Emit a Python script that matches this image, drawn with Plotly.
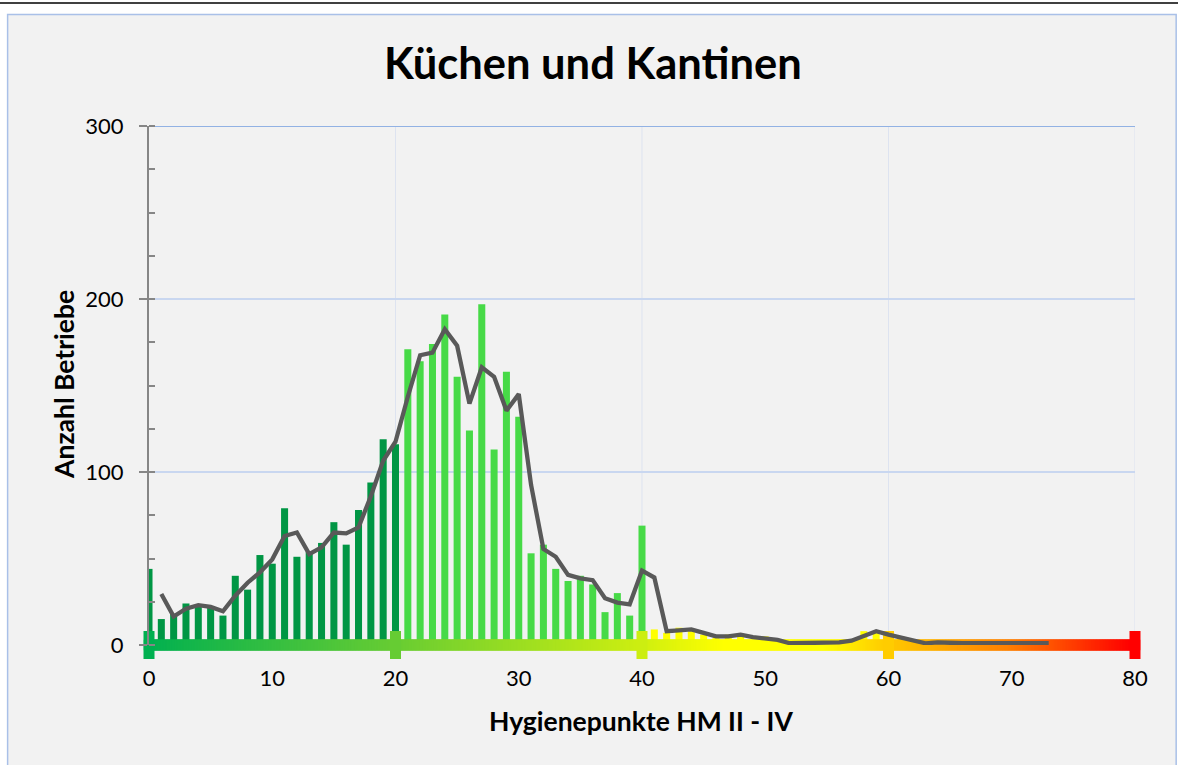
import numpy as np
import pandas as pd
import plotly.graph_objects as go

# ---------------- data ----------------
punkte = list(range(0, 74))  # Hygienepunkte
anzahl = [44, 15, 18, 24, 22, 22, 17, 40, 32, 52, 47, 79, 51, 54, 59, 71, 58, 78, 94, 119, 116,
          171, 164, 174, 191, 155, 124, 197, 113, 158, 132, 53, 58, 44, 37, 40, 35, 19, 30, 17, 69,
          9, 7, 10, 8, 6, 4, 6, 6, 3, 5, 1, 1, 1, 2, 1, 2, 3, 8, 8, 4,
          5, 0, 2, 1, 1, 1, 1, 1, 1, 1, 1, 1, 1]

# colour classes of the bars (upper limit of class, colour)
klassen_grenzen = [20, 40, 60, 80]
klassen_farben = ["#009644", "#47DA47", "#FFFF00", "#FFC000"]

# gradient scale below the axis
skala_pos = [0, 20, 40, 47, 55, 60, 70, 80]
skala_farben = ["#00B050", "#66CC33", "#CCEE11", "#FFFF00", "#FFFF00", "#FFCC00", "#FF8000", "#FF0000"]
skala_marken = [0, 20, 40, 60, 80]

x_ticks = list(range(0, 81, 10))
y_ticks = [0, 100, 200, 300]

FONT = "Lato"

def bar_color(p):
    for g, c in zip(klassen_grenzen, klassen_farben):
        if p <= g:
            return c
    return klassen_farben[-1]

def hex2rgb(h):
    h = h.lstrip("#")
    return tuple(int(h[i:i + 2], 16) for i in (0, 2, 4))

def grad_color(v):
    for i in range(len(skala_pos) - 1):
        a, b = skala_pos[i], skala_pos[i + 1]
        if a <= v <= b:
            t = (v - a) / (b - a) if b > a else 0
            c1, c2 = hex2rgb(skala_farben[i]), hex2rgb(skala_farben[i + 1])
            c = [round(c1[k] + (c2[k] - c1[k]) * t) for k in range(3)]
            return "rgb(%d,%d,%d)" % tuple(c)
    return skala_farben[-1]

colorscale = [[p / 80, c] for p, c in zip(skala_pos, skala_farben)]

# moving average (period 2) trend line
trend = pd.Series(anzahl, index=punkte).rolling(2).mean()

fig = go.Figure()

fig.add_trace(go.Bar(
    x=punkte, y=anzahl,
    marker=dict(color=[bar_color(p) for p in punkte], line=dict(width=0)),
    hoverinfo="x+y", showlegend=False,
))

# gradient band
gx = np.linspace(skala_pos[0], skala_pos[-1], 641)
fig.add_trace(go.Scatter(
    x=gx, y=np.zeros_like(gx), mode="markers",
    marker=dict(symbol="square", size=10.5, color=gx, colorscale=colorscale,
                cmin=skala_pos[0], cmax=skala_pos[-1], line=dict(width=0)),
    cliponaxis=False, hoverinfo="skip", showlegend=False,
))

# class marks
fig.add_trace(go.Scatter(
    x=skala_marken, y=[0] * len(skala_marken), mode="markers",
    marker=dict(symbol="line-ns", size=20,
                line=dict(width=11, color=[grad_color(v) for v in skala_marken])),
    cliponaxis=False, hoverinfo="skip", showlegend=False,
))

# trend line
fig.add_trace(go.Scatter(
    x=trend.index[1:], y=trend.values[1:], mode="lines",
    line=dict(color="#595959", width=4.3),
    cliponaxis=False, showlegend=False,
))

W, H = 1178, 765
L, R, T, B = 148.5, 42.7, 125.5, 120.2
pw, ph = W - L - R, H - T - B

def px2paper_x(px):
    return (px - L) / pw

def px2paper_y(py):
    return (H - B - py) / ph

shapes = []
# chart container
shapes.append(dict(type="rect", xref="paper", yref="paper", layer="below",
                   x0=px2paper_x(7), x1=px2paper_x(1176.5),
                   y0=px2paper_y(770), y1=px2paper_y(14),
                   fillcolor="#F2F2F2", line=dict(color="#A9C0E8", width=1.5)))
# top dark line of the page
shapes.append(dict(type="line", xref="paper", yref="paper", layer="below",
                   x0=px2paper_x(-5), x1=px2paper_x(1185),
                   y0=px2paper_y(2.5), y1=px2paper_y(2.5),
                   line=dict(color="#000000", width=1.5)))
# vertical grid lines every 20
for gxv in range(20, 81, 20):
    shapes.append(dict(type="line", xref="x", yref="y", layer="below",
                       x0=gxv, x1=gxv, y0=0, y1=300,
                       line=dict(color="#DDE3F0", width=1)))
# top grid line (darker)
shapes.append(dict(type="line", xref="x", yref="y", layer="below",
                   x0=0, x1=80, y0=300, y1=300,
                   line=dict(color="#92B2E4", width=2)))

fig.update_layout(
    width=W, height=H,
    margin=dict(l=L, r=R, t=T, b=B, pad=0),
    paper_bgcolor="#FFFFFF",
    plot_bgcolor="#F2F2F2",
    bargap=0.43,
    font=dict(family=FONT, size=22, color="#000000"),
    shapes=shapes,
    annotations=[
        dict(text="<b>Küchen und Kantinen</b>", xref="paper", yref="paper",
             x=px2paper_x(592.5), y=px2paper_y(61), xanchor="center", yanchor="middle",
             showarrow=False, font=dict(family=FONT, size=43.5, color="#000000")),
        dict(text="<b>Hygienepunkte HM II - IV</b>", xref="paper", yref="paper",
             x=px2paper_x(641), y=px2paper_y(721), xanchor="center", yanchor="middle",
             showarrow=False, font=dict(family=FONT, size=26.5, color="#000000")),
        dict(text="<b>Anzahl Betriebe</b>", xref="paper", yref="paper",
             x=px2paper_x(64), y=px2paper_y(384), xanchor="center", yanchor="middle",
             textangle=-90, showarrow=False, font=dict(family=FONT, size=26.5, color="#000000")),
    ],
    xaxis=dict(range=[0, 80], tickvals=x_ticks, showgrid=False, zeroline=False,
               showline=False, ticks="", ticklabelstandoff=18,
               tickfont=dict(family=FONT, size=22, color="#000000")),
    yaxis=dict(range=[0, 300], tickvals=y_ticks, showgrid=True, gridcolor="#C9D7F0",
               gridwidth=1.5, zeroline=False, showline=True, linecolor="#868686",
               linewidth=2, ticks="outside", ticklen=8, tickcolor="#868686", tickwidth=2,
               ticklabelstandoff=11,
               minor=dict(dtick=25, tick0=0, ticks="inside", ticklen=6,
                          tickcolor="#868686", tickwidth=2, showgrid=False),
               tickfont=dict(family=FONT, size=22, color="#000000")),
)

fig.write_html("out.html",
               config={"displayModeBar": False},
               post_script="document.body.style.margin='0';document.body.style.padding='0';")
